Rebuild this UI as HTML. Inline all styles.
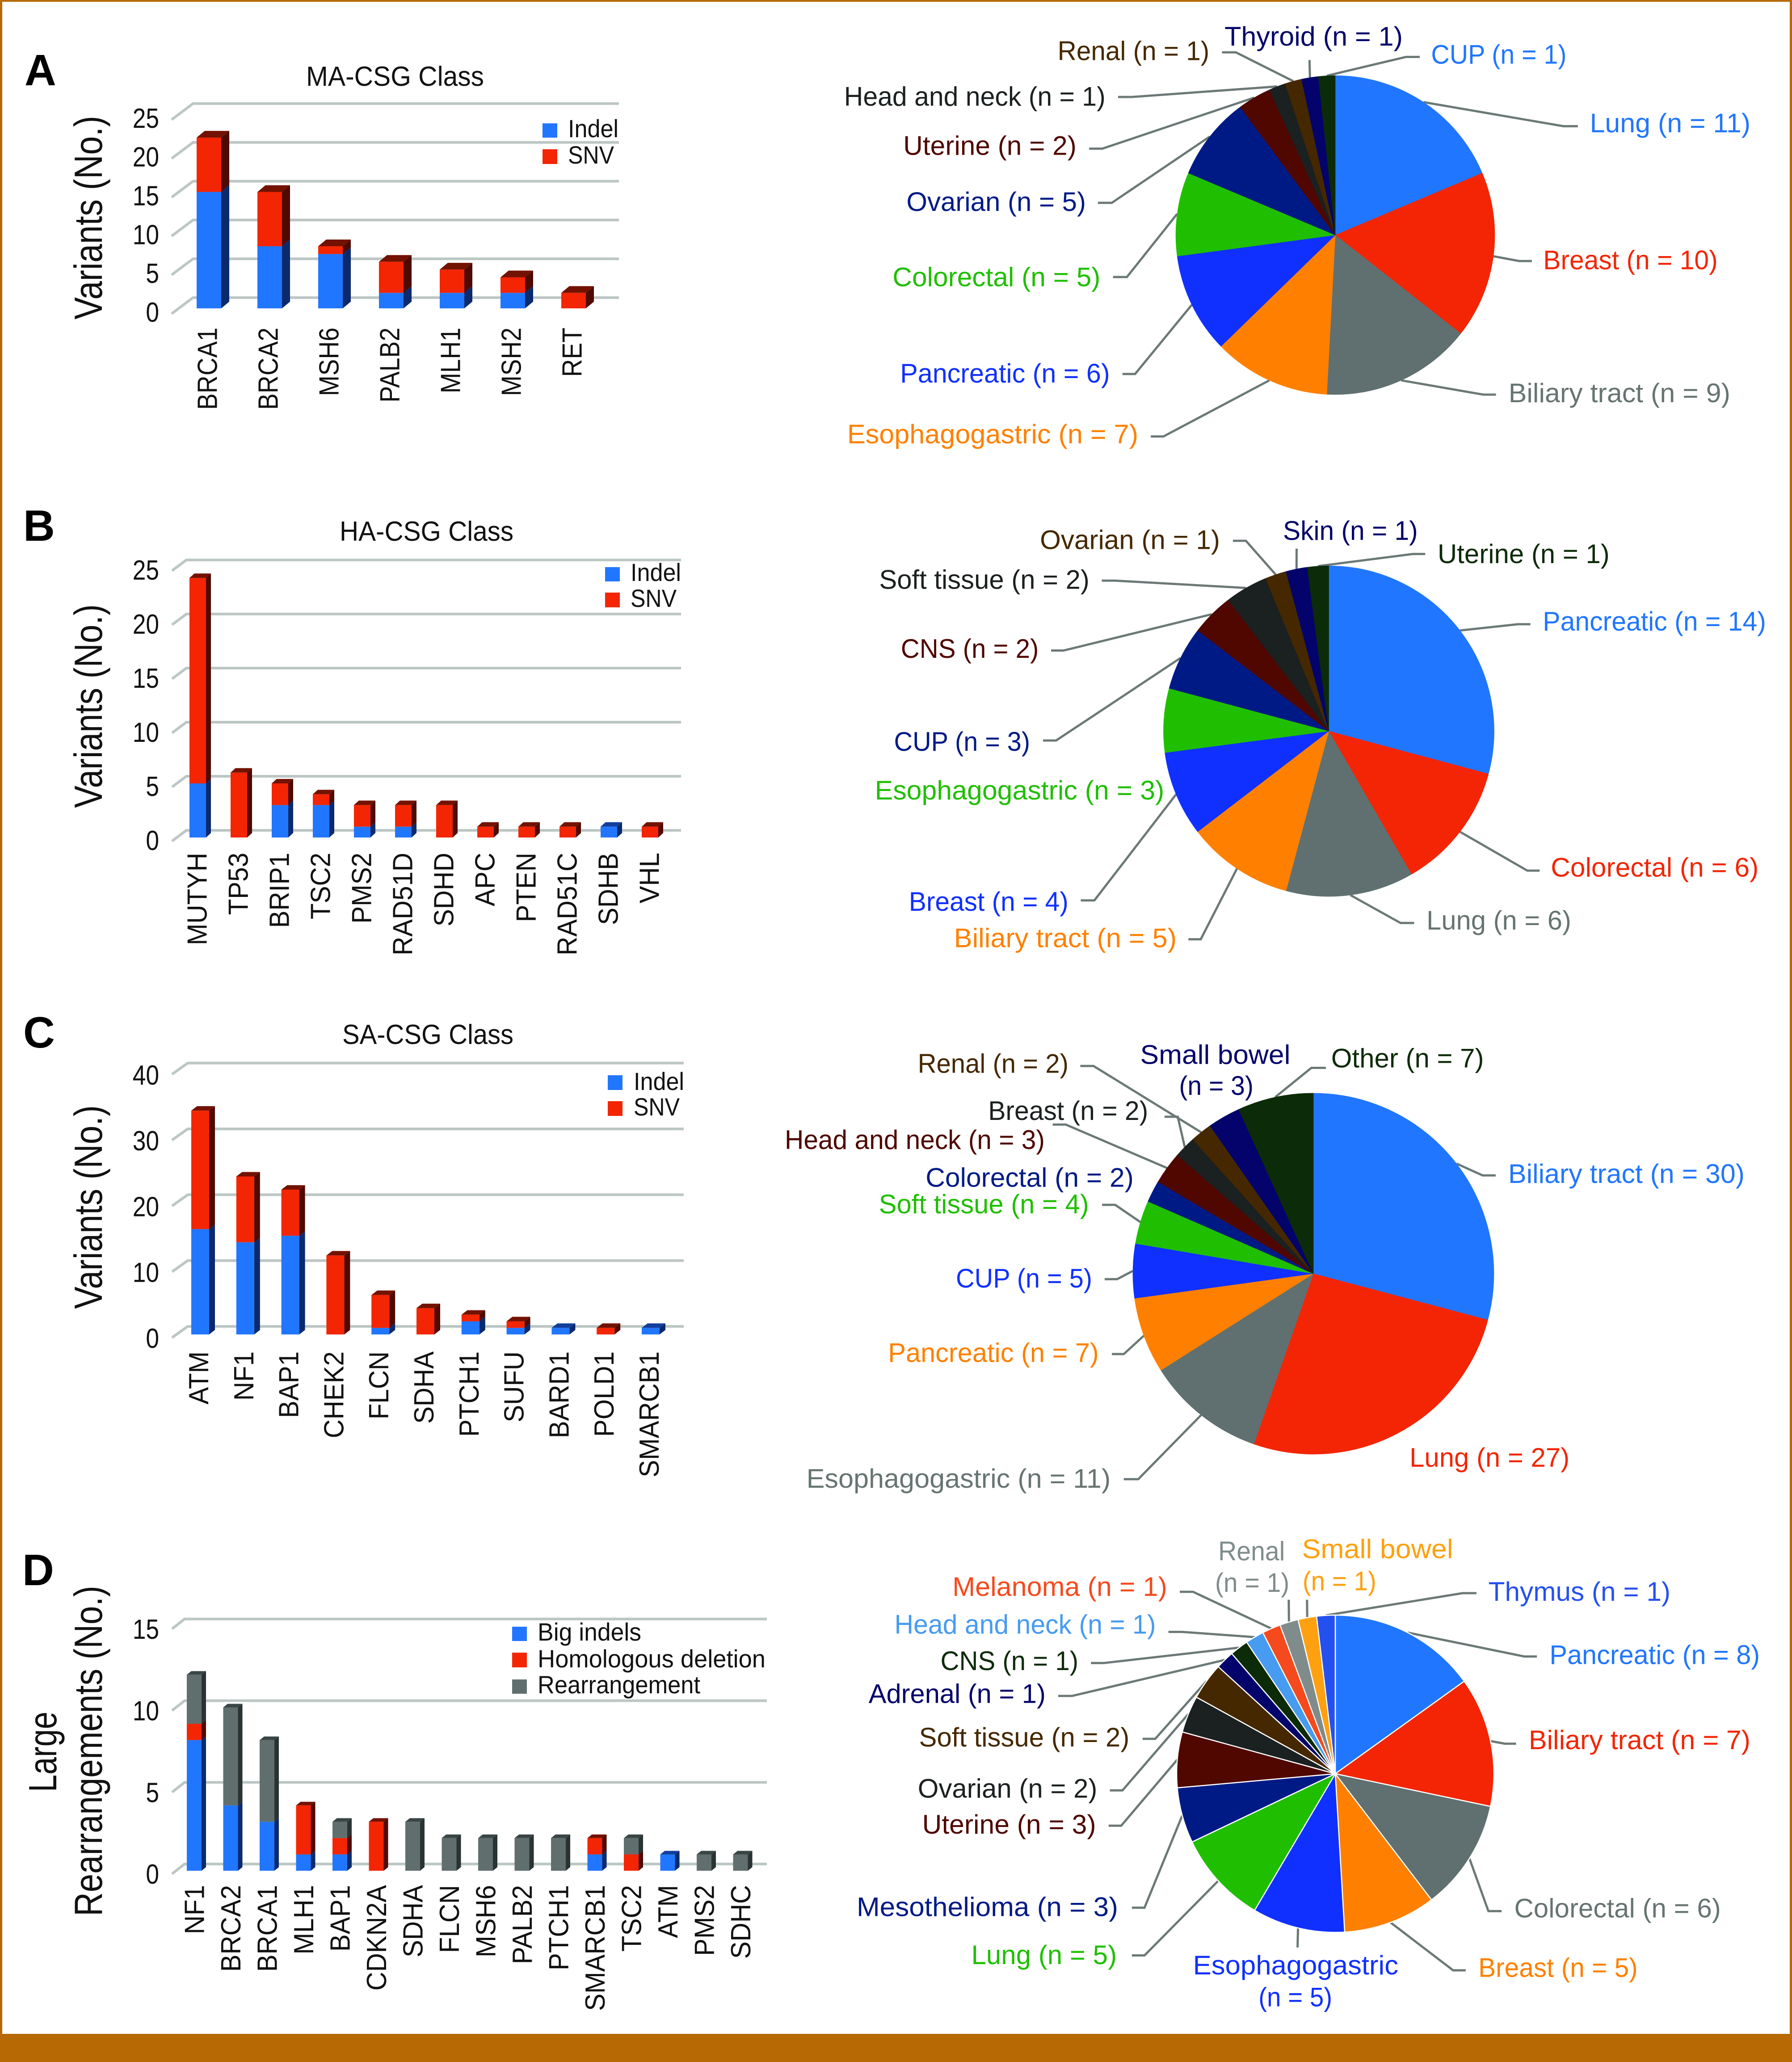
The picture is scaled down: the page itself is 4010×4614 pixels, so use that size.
<!DOCTYPE html>
<html lang="en">
<head>
<meta charset="utf-8">
<title>Variant classes and tumor types by CSG class</title>
<style>
html,body{margin:0;padding:0;background:#fff}
svg{display:block}
text{font-family:"Liberation Sans",Arial,sans-serif}
</style>
</head>
<body>
<svg id="figure" xmlns="http://www.w3.org/2000/svg" width="4010" height="4614" viewBox="0 0 4010 4614">
  <rect x="0" y="0" width="4010" height="4614" fill="#ffffff"/>
  <rect x="0" y="0" width="4010" height="4" fill="#b76a04"/>
  <rect x="0" y="0" width="5" height="4614" fill="#b76a04"/>
  <rect x="4005" y="0" width="5" height="4614" fill="#b76a04"/>
  <rect x="0" y="4551" width="4010" height="63" fill="#b76a04"/>

  <g font-weight="700" font-size="98" fill="#000">
    <text x="55" y="191">A</text>
    <text x="52" y="1210">B</text>
    <text x="52" y="2344">C</text>
    <text x="50" y="3547">D</text>
  </g>

  <g font-size="62" fill="#111">
    <text x="685" y="192" textLength="398" lengthAdjust="spacingAndGlyphs">MA-CSG Class</text>
    <text x="760" y="1210" textLength="389" lengthAdjust="spacingAndGlyphs">HA-CSG Class</text>
    <text x="766" y="2336" textLength="383" lengthAdjust="spacingAndGlyphs">SA-CSG Class</text>
  </g>

  <g font-size="88" fill="#111" text-anchor="middle">
    <text transform="translate(228,487) rotate(-90) scale(.85,1)">Variants (No.)</text>
    <text transform="translate(228,1580) rotate(-90) scale(.85,1)">Variants (No.)</text>
    <text transform="translate(228,2701) rotate(-90) scale(.85,1)">Variants (No.)</text>
    <text transform="translate(126,3920) rotate(-90) scale(.8,1)">Large</text>
    <text transform="translate(228,3918) rotate(-90) scale(.845,1)">Rearrangements (No.)</text>
  </g>

  <g id="charts"></g>
  <g id="pies"></g>

  <g font-size="56" fill="#111">
    <rect x="1214" y="276" width="33" height="32" fill="#2176ff"/>
    <text x="1271" y="307" textLength="113" lengthAdjust="spacingAndGlyphs">Indel</text>
    <rect x="1214" y="334" width="33" height="33" fill="#f32502"/>
    <text x="1271" y="366" textLength="103" lengthAdjust="spacingAndGlyphs">SNV</text>
  </g>
  <g font-size="56" fill="#111">
    <rect x="1354" y="1269" width="33" height="32" fill="#2176ff"/>
    <text x="1411" y="1300" textLength="113" lengthAdjust="spacingAndGlyphs">Indel</text>
    <rect x="1354" y="1326" width="33" height="33" fill="#f32502"/>
    <text x="1411" y="1358" textLength="103" lengthAdjust="spacingAndGlyphs">SNV</text>
  </g>
  <g font-size="56" fill="#111">
    <rect x="1360" y="2406" width="33" height="33" fill="#2176ff"/>
    <text x="1418" y="2439" textLength="113" lengthAdjust="spacingAndGlyphs">Indel</text>
    <rect x="1360" y="2464" width="33" height="33" fill="#f32502"/>
    <text x="1418" y="2496" textLength="103" lengthAdjust="spacingAndGlyphs">SNV</text>
  </g>
  <g font-size="56" fill="#111">
    <rect x="1146" y="3640" width="33" height="32" fill="#2176ff"/>
    <text x="1203" y="3671" textLength="232" lengthAdjust="spacingAndGlyphs">Big indels</text>
    <rect x="1146" y="3698" width="33" height="33" fill="#f32502"/>
    <text x="1203" y="3731" textLength="510" lengthAdjust="spacingAndGlyphs">Homologous deletion</text>
    <rect x="1146" y="3758" width="33" height="32" fill="#606f6e"/>
    <text x="1203" y="3789" textLength="364" lengthAdjust="spacingAndGlyphs">Rearrangement</text>
  </g>
</svg>

<script>
// ---------- Bar chart data ----------
const aCats = ["BRCA1","BRCA2","MSH6","PALB2","MLH1","MSH2","RET"];
const aIndel = [15,8,7,2,2,2,0];
const aSnv = [7,7,1,4,3,2,2];
const aTicks = [0,5,10,15,20,25];

const bCats = ["MUTYH","TP53","BRIP1","TSC2","PMS2","RAD51D","SDHD","APC","PTEN","RAD51C","SDHB","VHL"];
const bIndel = [5,0,3,3,1,1,0,0,0,0,1,0];
const bSnv = [19,6,2,1,2,2,3,1,1,1,0,1];
const bTicks = [0,5,10,15,20,25];

const cCats = ["ATM","NF1","BAP1","CHEK2","FLCN","SDHA","PTCH1","SUFU","BARD1","POLD1","SMARCB1"];
const cIndel = [16,14,15,0,1,0,2,1,1,0,1];
const cSnv = [18,10,7,12,5,4,1,1,0,1,0];
const cTicks = [0,10,20,30,40];

const dCats = ["NF1","BRCA2","BRCA1","MLH1","BAP1","CDKN2A","SDHA","FLCN","MSH6","PALB2","PTCH1","SMARCB1","TSC2","ATM","PMS2","SDHC"];
const dBigIndels = [8,4,3,1,1,0,0,0,0,0,0,1,0,1,0,0];
const dHomologous = [1,0,0,3,1,3,0,0,0,0,0,1,1,0,0,0];
const dRearrangement = [3,6,5,0,1,0,3,2,2,2,2,0,1,0,1,1];
const dTicks = [0,5,10,15];

// ---------- Pie chart data ----------
const pieANames = ["Lung","Breast","Biliary tract","Esophagogastric","Pancreatic","Colorectal","Ovarian","Uterine","Head and neck","Renal","Thyroid","CUP"];
const pieAValues = [11,10,9,7,6,5,5,2,1,1,1,1];

const pieBNames = ["Pancreatic","Colorectal","Lung","Biliary tract","Breast","Esophagogastric","CUP","CNS","Soft tissue","Ovarian","Skin","Uterine"];
const pieBValues = [14,6,6,5,4,3,3,2,2,1,1,1];

const pieCNames = ["Biliary tract","Lung","Esophagogastric","Pancreatic","CUP","Soft tissue","Colorectal","Head and neck","Breast","Renal","Small bowel","Other"];
const pieCValues = [30,27,11,7,5,4,2,3,2,2,3,7];

const pieDNames = ["Pancreatic","Biliary tract","Colorectal","Breast","Esophagogastric","Lung","Mesothelioma","Uterine","Ovarian","Soft tissue","Adrenal","CNS","Head and neck","Melanoma","Renal","Small bowel","Thymus"];
const pieDValues = [8,7,6,5,5,5,3,3,2,2,1,1,1,1,1,1,1];

// ---------- Styles ----------
const slicePalette = ["#2176ff","#f32505","#607070","#ff8000","#1030ff","#1fbf00","#001a85","#4f0700","#1b2020","#452800","#03036b","#0c2b08"];
const slicePaletteD = ["#2176ff","#f32505","#607070","#ff8000","#1030ff","#1fbf00","#001a85","#4f0700","#1b2020","#452800","#03036b","#0c2b08","#479bf0","#f54a1e","#808c8c","#ffa010","#2550f0"];
const textPalette = ["#2176ff","#f32505","#667472","#ff8000","#1030ff","#1fbf00","#001a85","#4f0700","#1b2020","#452800","#03036b","#0c2b08"];
const textPaletteA = ["#2176ff","#f32505","#667472","#ff8000","#1030ff","#1fbf00","#001a85","#4f0700","#1b2020","#452800","#03036b","#2176ff"];
const textPaletteD = ["#2176ff","#f32505","#667472","#ff8000","#1030ff","#1fbf00","#001a85","#4f0700","#1b2020","#452800","#03036b","#0c2b08","#479bf0","#f54a1e","#808c8c","#ffa010","#2550f0"];
const BLUE = {front:"#2176ff", side:"#0b2a6e", top:"#123f9c"};
const RED = {front:"#f32502", side:"#4e0a00", top:"#731200"};
const GRAY = {front:"#606f6e", side:"#2a3333", top:"#3a4545"};

const NS = "http://www.w3.org/2000/svg";
function mk(tag, parent, attrs){
  const e = document.createElementNS(NS, tag);
  for (const k in attrs) e.setAttribute(k, attrs[k]);
  parent.appendChild(e);
  return e;
}

// ---------- Bar chart drawing ----------
function barChart(cfg){
  const host = document.getElementById("charts");
  const g = mk("g", host, {});
  
  
  const yOf = v => cfg.base - v * cfg.unit;

  cfg.ticks.forEach(t => {
    const gy = yOf(t) - cfg.gridOff;
    const line = mk("polyline", g, {
      points: (cfg.backX - cfg.gridDx) + "," + (gy + cfg.gridDy) + " " + cfg.backX + "," + gy + " " + cfg.right + "," + gy,
      fill: "none", stroke: "#bcc7c5", "stroke-width": 6
    });
    
    
    const lab = mk("text", g, {
      transform: "translate(356," + (yOf(t) + cfg.tickOff + 22) + ") scale(.86,1)",
      "text-anchor": "end", "font-size": 62, fill: "#111"
    });
    lab.textContent = t;
    
    
  });

  cfg.cats.forEach((cat, i) => {
    const x = cfg.x0 + i * cfg.step;
    let sum = 0;
    let topStyle = null;
    let topY = cfg.base;
    cfg.series.forEach(s => {
      const v = s.values[i];
      if (v <= 0) return;
      const y1 = yOf(sum);
      const y2 = yOf(sum + v);
      const side = mk("polygon", g, {
        points: (x + cfg.w) + "," + y1 + " " + (x + cfg.w + cfg.dx) + "," + (y1 - cfg.dy) + " " + (x + cfg.w + cfg.dx) + "," + (y2 - cfg.dy) + " " + (x + cfg.w) + "," + y2,
        fill: s.style.side
      });
      
      
      const front = mk("rect", g, {x: x, y: y2, width: cfg.w, height: y1 - y2, fill: s.style.front});
      
      
      sum += v;
      topStyle = s.style;
      topY = y2;
    });
    if (topStyle){
      const top = mk("polygon", g, {
        points: x + "," + topY + " " + (x + cfg.dx) + "," + (topY - cfg.dy) + " " + (x + cfg.w + cfg.dx) + "," + (topY - cfg.dy) + " " + (x + cfg.w) + "," + topY,
        fill: topStyle.top
      });
      
      
    }
    const lab = mk("text", g, {
      transform: "translate(" + (x + cfg.w / 2 + cfg.catOff) + "," + cfg.catEnd + ") rotate(-90) scale(" + cfg.catScale + ",1)",
      "text-anchor": "end", "font-size": cfg.catSize, fill: "#111"
    });
    lab.textContent = cat;
    
    
  });
}

barChart({id:"a", cats:aCats, ticks:aTicks,
  series:[{name:"indel",values:aIndel,style:BLUE},{name:"snv",values:aSnv,style:RED}],
  base:690, unit:17.37, gridOff:24, tickOff:8, backX:432, gridDx:48, gridDy:36, right:1385,
  x0:440, w:55, step:136, dx:18, dy:15, catEnd:733, catOff:18, catSize:62, catScale:.89});
barChart({id:"b", cats:bCats, ticks:bTicks,
  series:[{name:"indel",values:bIndel,style:BLUE},{name:"snv",values:bSnv,style:RED}],
  base:1874, unit:24.2, gridOff:16, tickOff:6, backX:417, gridDx:32, gridDy:24, right:1524,
  x0:424, w:37, step:92, dx:11, dy:10, catEnd:1908, catOff:20, catSize:62, catScale:.94});
barChart({id:"c", cats:cCats, ticks:cTicks,
  series:[{name:"indel",values:cIndel,style:BLUE},{name:"snv",values:cSnv,style:RED}],
  base:2986, unit:14.73, gridOff:18, tickOff:8, backX:420, gridDx:35, gridDy:25, right:1530,
  x0:428, w:40, step:100.8, dx:13, dy:10, catEnd:3024, catOff:18, catSize:62, catScale:.94});
barChart({id:"d", cats:dCats, ticks:dTicks,
  series:[{name:"big-indels",values:dBigIndels,style:BLUE},{name:"homologous-deletion",values:dHomologous,style:RED},{name:"rearrangement",values:dRearrangement,style:GRAY}],
  base:4186, unit:36.55, gridOff:15, tickOff:7, backX:413, gridDx:28, gridDy:22, right:1716,
  x0:418, w:33, step:81.5, dx:10, dy:8, catEnd:4218, catOff:22, catSize:62, catScale:.94});

// ---------- Pie chart drawing ----------
function makePie(id, names, values, cx, cy, r, palette, textColors, sep, frame){
  const host = document.getElementById("pies");
  const g = mk("g", host, {});
  
  
  const total = values.reduce((a, b) => a + b, 0);
  const mids = [];
  let cum = 0;
  const leaders = mk("g", g, {});
  
  
  values.forEach((v, i) => {
    const a0 = cum / total * 2 * Math.PI;
    const a1 = (cum + v) / total * 2 * Math.PI;
    mids.push((a0 + a1) / 2);
    const x0 = cx + r * Math.sin(a0), y0 = cy - r * Math.cos(a0);
    const x1 = cx + r * Math.sin(a1), y1 = cy - r * Math.cos(a1);
    const large = (a1 - a0) > Math.PI ? 1 : 0;
    const p = mk("path", g, {
      d: "M" + cx + " " + cy + " L" + x0 + " " + y0 + " A" + r + " " + r + " 0 " + large + " 1 " + x1 + " " + y1 + " Z",
      fill: palette[i], stroke: sep ? "#fff" : palette[i], "stroke-width": sep ? 2.5 : 0.6, "stroke-linejoin": "round"
    });
    
    
    cum += v;
  });
  const X = z => frame.x0 + z * frame.w / 1568;
  const Y = z => frame.y0 + z * frame.h / 1568;
  function text(str, i, zl, zr, zb){
    const t = mk("text", g, {
      x: X(zl), y: Y(zb), "font-size": 60, fill: textColors[i],
      textLength: X(zr) - X(zl), lengthAdjust: "spacingAndGlyphs"
    });
    t.textContent = str;
    
    
  }
  return {
    // place a slice label (zoom-frame units) and its leader: slice edge -> bend(s)
    label(i, zl, zr, zb, path, second){
      if (second){
        text(names[i], i, zl, zr, zb);
        text("(n = " + values[i] + ")", i, second[0], second[1], second[2]);
      } else {
        text(names[i] + " (n = " + values[i] + ")", i, zl, zr, zb);
      }
      if (path){
        let pts = (cx + r * Math.sin(mids[i])) + "," + (cy - r * Math.cos(mids[i]));
        for (let k = 0; k < path.length; k += 2) pts += " " + X(path[k]) + "," + Y(path[k + 1]);
        const l = mk("polyline", leaders, {points: pts, fill: "none", stroke: "#6b7977", "stroke-width": 5});
        
        
      }
    }
  };
}

const pA = makePie("a", pieANames, pieAValues, 2988, 526, 357, slicePalette, textPaletteA, false, {x0:1800,y0:0,w:2210,h:1080});
pA.label(0, 1247,1502,430, [1205,410,1228,410]);
pA.label(1, 1173,1450,875, [1135,848,1155,848]);
pA.label(2, 1118,1470,1307, [1078,1282,1098,1282]);
pA.label(3, 68,530,1440, [570,1418,550,1418]);
pA.label(4, 152,485,1243, [525,1215,505,1215]);
pA.label(5, 140,470,930, [512,900,490,900]);
pA.label(6, 162,447,685, [488,659,466,659]);
pA.label(7, 157,432,503, [473,483,452,483]);
pA.label(8, 63,478,343, [520,315,498,315]);
pA.label(9, 402,643,195, [685,170,663,170]);
pA.label(10, 667,950,148, [802,195]);
pA.label(11, 995,1210,207, [955,185,977,185]);

const pB = makePie("b", pieBNames, pieBValues, 2973.5, 1636, 370, slicePalette, textPalette, false, {x0:1840,y0:1100,w:2170,h:1100});
pB.label(0, 1165,1526,443, [1125,423,1145,423]);
pB.label(1, 1178,1514,1228, [1140,1209,1160,1209]);
pB.label(2, 977,1211,1397, [935,1376,957,1376]);
pB.label(3, 213,573,1453, [612,1428,592,1428]);
pB.label(4, 140,398,1337, [440,1304,418,1304]);
pB.label(5, 85,553,982, null);
pB.label(6, 116,336,827, [378,794,357,794]);
pB.label(7, 127,350,530, [390,507,370,507]);
pB.label(8, 92,432,310, [473,284,452,284]);
pB.label(9, 352,643,183, [685,157,664,157]);
pB.label(10, 745,963,154, [767,182]);
pB.label(11, 995,1273,228, [955,199,975,199]);

const pC = makePie("c", pieCNames, pieCValues, 2939, 2850, 404, slicePalette, textPalette, false, {x0:1700,y0:2280,w:2310,h:1100});
pC.label(0, 1137,1496,523, [1098,499,1118,499]);
pC.label(1, 987,1230,1428, null);
pC.label(2, 71,533,1495, [575,1468,553,1468]);
pC.label(3, 195,515,1094, [553,1069,535,1069]);
pC.label(4, 298,505,857, [543,830,524,830]);
pC.label(5, 181,500,620, [540,593,520,593]);
pC.label(6, 252,568,535, null);
pC.label(7, 38,433,415, [465,337,445,337]);
pC.label(8, 347,590,322, [635,312,615,312]);
pC.label(9, 240,469,172, [507,150,487,150]);
pC.label(10, 578,806,143, null, [637,750,242]);
pC.label(11, 868,1100,155, [838,156,860,156]);

const pD = makePie("d", pieDNames, pieDValues, 2988, 3969, 355, slicePaletteD, textPaletteD, true, {x0:1800,y0:3400,w:2210,h:1214});
pD.label(0, 1183,1517,418, [1143,396,1163,396]);
pD.label(1, 1150,1502,664, [1112,648,1130,648]);
pD.label(2, 1127,1455,1150, [1086,1132,1107,1132]);
pD.label(3, 1070,1323,1322, [1030,1303,1050,1303]);
pD.label(4, 617,943,1315, [783,1237], [721,838,1407]);
pD.label(5, 265,496,1285, [540,1260,520,1260]);
pD.label(6, 83,498,1146, [540,1122,520,1122]);
pD.label(7, 187,463,908, [503,885,483,885]);
pD.label(8, 180,465,804, [505,783,485,783]);
pD.label(9, 182,516,656, [557,634,537,634]);
pD.label(10, 102,383,530, [425,510,403,510]);
pD.label(11, 216,435,435, [475,415,455,415]);
pD.label(12, 143,558,330, [600,325,578,325]);
pD.label(13, 235,576,221, [617,209,596,209]);
pD.label(14, 657,763,118, [769,232], [652,770,209]);
pD.label(15, 790,1030,112, [798,232], [791,908,205]);
pD.label(16, 1086,1375,235, [1045,213,1067,213]);
</script>
</body>
</html>
